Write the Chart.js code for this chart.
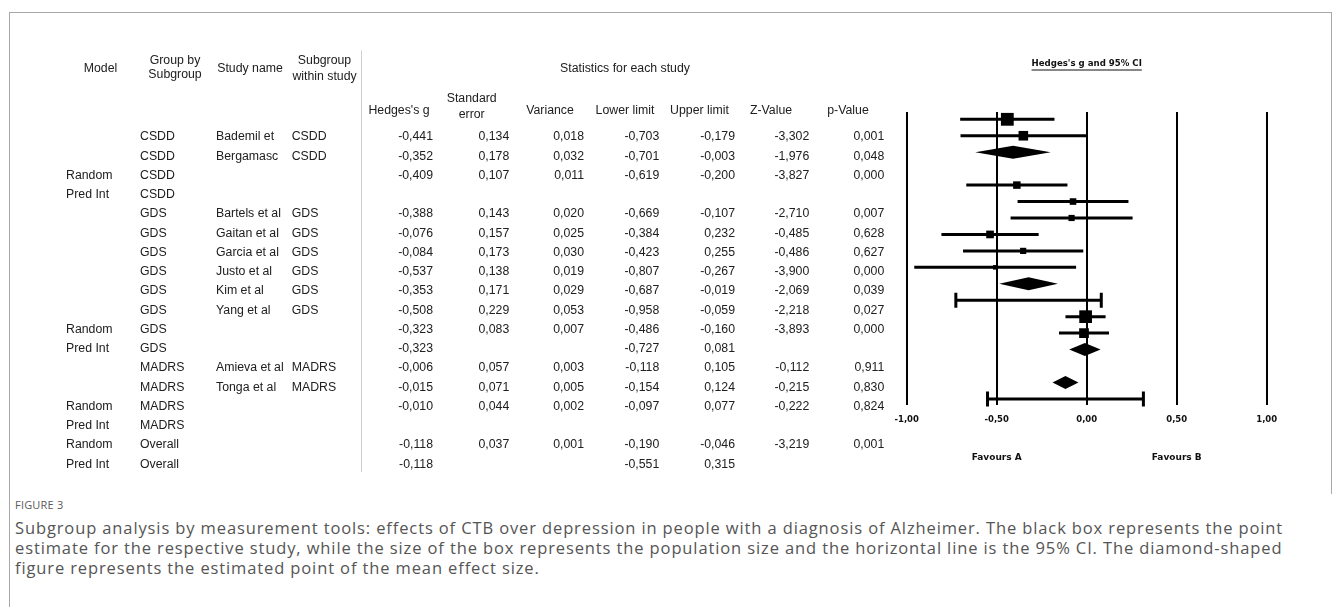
<!DOCTYPE html>
<html>
<head>
<meta charset="utf-8">
<title>Subgroup analysis by measurement tools</title>
<script src="https://cdn.jsdelivr.net/npm/chart.js@4.4.1/dist/chart.umd.min.js"></script>
<style>
  html, body { margin: 0; padding: 0; background: #fff; }
  body { width: 1333px; height: 607px; position: relative; overflow: hidden; }
  #frame { position: absolute; left: 9px; top: 12px; width: 1321px; height: 481px;
           border-left: 1px solid #a8a8a8; border-top: 1px solid #a8a8a8; border-right: 1px solid #a8a8a8; }
  #leftRule { position: absolute; left: 9px; top: 493px; width: 1px; height: 114px; background: #a8a8a8; }
  #wrap { position: absolute; left: 0; top: 0; width: 1333px; height: 495px; }
  #figLabel { position: absolute; left: 15px; top: 497px; font: 11px "Open Sans", sans-serif;
              color: #5a5a5a; letter-spacing: 0.2px; }
  #caption { position: absolute; left: 15px; top: 518px; font: 16.5px "Open Sans", sans-serif;
             color: #555; line-height: 20px; white-space: nowrap; letter-spacing: 0.88px; }
</style>
</head>
<body>
<div id="frame"></div>
<div id="leftRule"></div>
<div id="wrap"><canvas id="forest"></canvas></div>
<div id="figLabel">FIGURE 3</div>
<div id="caption">Subgroup analysis by measurement tools: effects of CTB over depression in people with a diagnosis of Alzheimer. The black box represents the point<br>estimate for the respective study, while the size of the box represents the population size and the horizontal line is the 95% CI. The diamond-shaped<br>figure represents the estimated point of the mean effect size.</div>
<script>
// ---- Study table --------------------------------------------------------
const rowKind   = ['study','study','random','pred','study','study','study','study','study','study','random','pred','study','study','random','pred','random','pred'];
const models    = ['','','Random','Pred Int','','','','','','','Random','Pred Int','','','Random','Pred Int','Random','Pred Int'];
const groups    = ['CSDD','CSDD','CSDD','CSDD','GDS','GDS','GDS','GDS','GDS','GDS','GDS','GDS','MADRS','MADRS','MADRS','MADRS','Overall','Overall'];
const studies   = ['Bademil et','Bergamasc','','','Bartels et al','Gaitan et al','Garcia et al','Justo et al','Kim et al','Yang et al','','','Amieva et al','Tonga et al','','','',''];
const withinSub = ['CSDD','CSDD','','','GDS','GDS','GDS','GDS','GDS','GDS','','','MADRS','MADRS','','','',''];
const hedgesG   = [-0.441,-0.352,-0.409,null,-0.388,-0.076,-0.084,-0.537,-0.353,-0.508,-0.323,-0.323,-0.006,-0.015,-0.010,null,-0.118,-0.118];
const stdError  = [0.134,0.178,0.107,null,0.143,0.157,0.173,0.138,0.171,0.229,0.083,null,0.057,0.071,0.044,null,0.037,null];
const variance  = [0.018,0.032,0.011,null,0.020,0.025,0.030,0.019,0.029,0.053,0.007,null,0.003,0.005,0.002,null,0.001,null];
const lowerLim  = [-0.703,-0.701,-0.619,null,-0.669,-0.384,-0.423,-0.807,-0.687,-0.958,-0.486,-0.727,-0.118,-0.154,-0.097,null,-0.190,-0.551];
const upperLim  = [-0.179,-0.003,-0.200,null,-0.107,0.232,0.255,-0.267,-0.019,-0.059,-0.160,0.081,0.105,0.124,0.077,null,-0.046,0.315];
const zValue    = [-3.302,-1.976,-3.827,null,-2.710,-0.485,-0.486,-3.900,-2.069,-2.218,-3.893,null,-0.112,-0.215,-0.222,null,-3.219,null];
const pValue    = [0.001,0.048,0.000,null,0.007,0.628,0.627,0.000,0.039,0.027,0.000,null,0.911,0.830,0.824,null,0.001,null];
// relative weight (%) of each study inside its subgroup
const weightPct = [64,36,null,null,22,17,15,23,15,8,null,null,63,37,null,null,null,null];

const axisTicks = [-1, -0.5, 0, 0.5, 1];
const axisTitle = "Hedges's g and 95% CI";
const favours   = [{ text: 'Favours A', at: -0.5 }, { text: 'Favours B', at: 0.5 }];

// ---- Layout -------------------------------------------------------------
const TABLE_FONT = '12.3px "Liberation Sans", Arial, sans-serif';
const INK = '#202020';
const comma = v => v.toFixed(3).replace('.', ',');

// column anchors (pixels): [x, align]
const cols = {
  model:  [66, 'left'],  group: [140, 'left'], study: [216, 'left'], within: [291.7, 'left'],
  g: [433, 'right'], se: [509.3, 'right'], vr: [584, 'right'], lo: [659.3, 'right'],
  hi: [735, 'right'], z: [809.3, 'right'], p: [884.3, 'right']
};
const headers = [
  { t: 'Model', x: 100.5, r: -3.53 },
  { t: 'Group by', x: 175, r: -3.98 }, { t: 'Subgroup', x: 175, r: -3.22 },
  { t: 'Study name', x: 250, r: -3.53 },
  { t: 'Subgroup', x: 324.5, r: -3.95 }, { t: 'within study', x: 324.5, r: -3.15 },
  { t: 'Statistics for each study', x: 625, r: -3.53 },
  { t: "Hedges's g", x: 399, r: -1.35 },
  { t: 'Standard', x: 471.7, r: -1.97 }, { t: 'error', x: 471.7, r: -1.14 },
  { t: 'Variance', x: 550, r: -1.35 }, { t: 'Lower limit', x: 625, r: -1.35 },
  { t: 'Upper limit', x: 699.5, r: -1.35 }, { t: 'Z-Value', x: 771, r: -1.35 },
  { t: 'p-Value', x: 848, r: -1.35 }
];

const DIAMOND_HALF = 6.5;   // px
const CAP_HALF = 7.5;       // px

const forestPlugin = {
  id: 'forestPlugin',
  beforeDatasetsDraw(chart) {
    const { ctx, scales: { x, y } } = chart;
    ctx.save();
    ctx.strokeStyle = '#000';
    ctx.fillStyle = '#000';
    ctx.lineWidth = 3;
    rowKind.forEach((kind, i) => {
      if (lowerLim[i] == null || upperLim[i] == null) return;
      const py = y.getPixelForValue(i);
      const x0 = x.getPixelForValue(lowerLim[i]);
      const x1 = x.getPixelForValue(upperLim[i]);
      if (kind === 'random') {
        const xc = x.getPixelForValue(hedgesG[i]);
        ctx.beginPath();
        ctx.moveTo(x0, py);
        ctx.lineTo(xc, py - DIAMOND_HALF);
        ctx.lineTo(x1, py);
        ctx.lineTo(xc, py + DIAMOND_HALF);
        ctx.closePath();
        ctx.fill();
        return;
      }
      ctx.beginPath();
      ctx.moveTo(x0, py); ctx.lineTo(x1, py);
      if (kind === 'pred') {
        ctx.moveTo(x0, py - CAP_HALF); ctx.lineTo(x0, py + CAP_HALF);
        ctx.moveTo(x1, py - CAP_HALF); ctx.lineTo(x1, py + CAP_HALF);
      }
      ctx.stroke();
    });
    ctx.restore();
  },
  afterDraw(chart) {
    const { ctx, scales: { x, yt } } = chart;
    ctx.save();
    ctx.fillStyle = INK;
    ctx.font = TABLE_FONT;
    ctx.textBaseline = 'middle';

    // header
    ctx.textAlign = 'center';
    headers.forEach(h => ctx.fillText(h.t, h.x, yt.getPixelForValue(h.r)));

    // separator between descriptors and statistics
    ctx.strokeStyle = '#cfcfcf';
    ctx.lineWidth = 1;
    ctx.beginPath();
    ctx.moveTo(361.5, yt.getPixelForValue(-4.5));
    ctx.lineTo(361.5, yt.getPixelForValue(17.4));
    ctx.stroke();

    // body rows
    const cell = (txt, col, py) => {
      if (txt === '' || txt == null) return;
      ctx.textAlign = col[1];
      ctx.fillText(txt, col[0], py);
    };
    const num = v => (v == null ? '' : comma(v));
    rowKind.forEach((k, i) => {
      const py = yt.getPixelForValue(i);
      cell(models[i], cols.model, py);
      cell(groups[i], cols.group, py);
      cell(studies[i], cols.study, py);
      cell(withinSub[i], cols.within, py);
      cell(num(hedgesG[i]), cols.g, py);
      cell(num(stdError[i]), cols.se, py);
      cell(num(variance[i]), cols.vr, py);
      cell(num(lowerLim[i]), cols.lo, py);
      cell(num(upperLim[i]), cols.hi, py);
      cell(num(zValue[i]), cols.z, py);
      cell(num(pValue[i]), cols.p, py);
    });

    // forest titles
    ctx.fillStyle = '#111';
    ctx.font = 'bold 8.6px "DejaVu Sans", sans-serif';
    ctx.textAlign = 'center';
    const cx = x.getPixelForValue(0);
    const ty = 63.5;
    ctx.fillText(axisTitle, cx, ty);
    const w = ctx.measureText(axisTitle).width;
    ctx.fillRect(cx - w / 2, ty + 6, w, 1);

    ctx.font = 'bold 9px "DejaVu Sans", sans-serif';
    favours.forEach(f => ctx.fillText(f.text, x.getPixelForValue(f.at), 457.5));
    ctx.restore();
  }
};

const boxPoints = [];
const boxRadius = [];
rowKind.forEach((k, i) => {
  if (k !== 'study') return;
  boxPoints.push({ x: hedgesG[i], y: i });
  // box side grows with the square root of the study weight
  boxRadius.push((1.6 * Math.sqrt(weightPct[i])) / Math.SQRT2);
});

new Chart(document.getElementById('forest'), {
  type: 'scatter',
  data: {
    datasets: [{
      label: 'Point estimate',
      data: boxPoints,
      pointStyle: 'rect',
      pointRadius: boxRadius,
      pointHoverRadius: boxRadius,
      backgroundColor: '#000',
      borderWidth: 0,
      clip: false
    }]
  },
  options: {
    responsive: true,
    maintainAspectRatio: false,
    animation: false,
    events: [],
    layout: { padding: { left: 906.7, right: 66.3, top: 112, bottom: 60 } },
    plugins: { legend: { display: false }, tooltip: { enabled: false } },
    scales: {
      x: {
        type: 'linear', min: -1, max: 1,
        afterBuildTicks: s => { s.ticks = axisTicks.map(v => ({ value: v })); },
        afterFit: s => { s.height = 30; },
        grid: { color: '#000', lineWidth: 2, drawTicks: false },
        border: { display: false },
        ticks: {
          padding: 10,
          color: '#111',
          font: { family: '"DejaVu Sans", sans-serif', size: 8.5, weight: 'bold' },
          callback: v => v.toFixed(2).replace('.', ',')
        }
      },
      y: { type: 'linear', reverse: true, min: -0.444, max: 17.37, display: false },
      yt: { type: 'linear', reverse: true, min: -1.299, max: 13.922, display: false }
    }
  },
  plugins: [forestPlugin]
});
</script>
</body>
</html>
